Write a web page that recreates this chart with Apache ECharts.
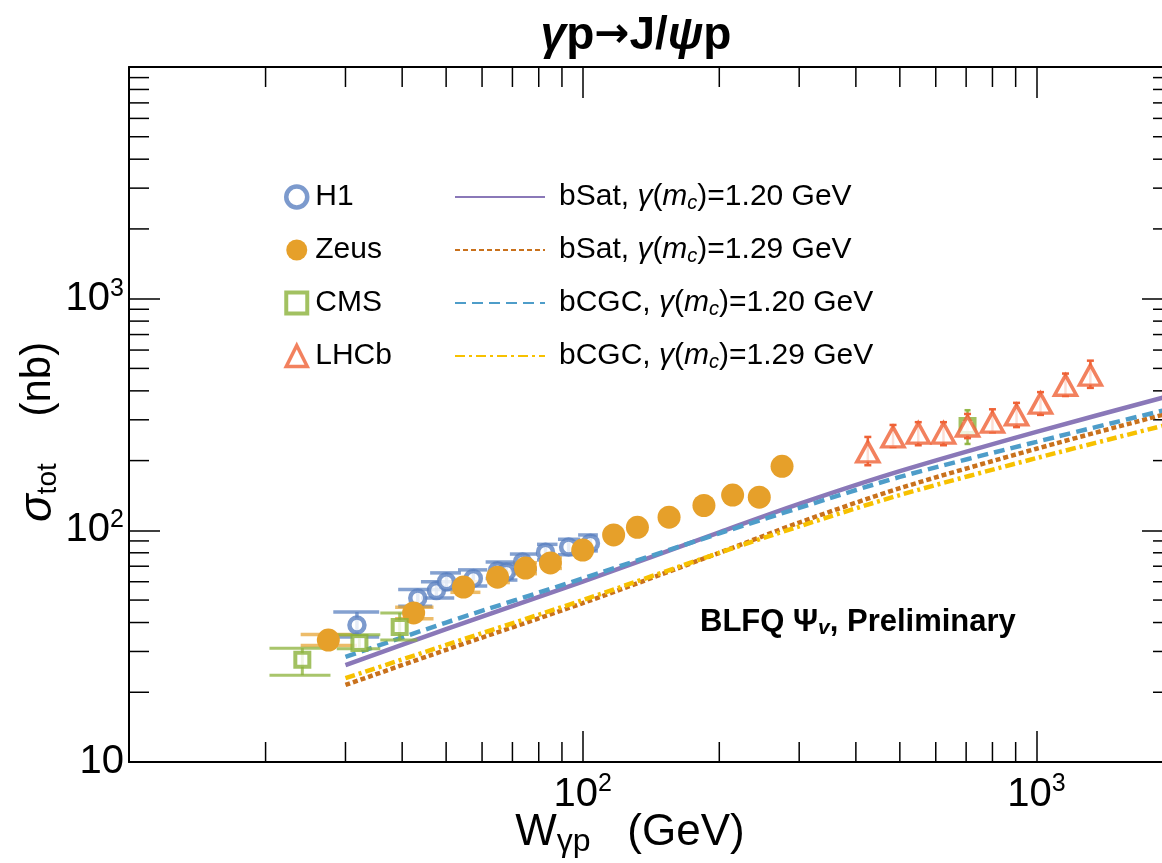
<!DOCTYPE html>
<html>
<head>
<meta charset="utf-8">
<script src="https://cdn.jsdelivr.net/npm/echarts@6/dist/echarts.min.js"></script>
<style>
html, body { margin: 0; padding: 0; background: #fff; }
#main { width: 1162px; height: 863px; }
</style>
</head>
<body>
<div id="main"></div>
<script>
// data points: [W (GeV), sigma (nb)]
var h1 = [[31.8,39],[43.3,51],[47.6,55],[50.1,60],[57.4,62],[64.9,67],[67.9,66],[73.7,73],[82.8,80.5],[93.1,84.7],[104,88]];
// error bars: [W, sigLo, sigHi, Wlo, Whi]
var h1Err = [[31.8,34.6,44.4,28.2,35.6],[43.3,47.0,55.5,39.2,46.6],[47.6,51.0,60.0,44.0,52.1],
    [50.1,55.5,65.5,46.1,53.9],[57.4,57.5,67.5,53.1,61.6],[64.9,62.0,73.0,61.1,70.4],
    [67.9,61.0,71.5,63.6,71.8],[73.7,67.5,79.0,69.1,79.3],[82.8,74.5,87.0,79.3,88.0],
    [93.1,78.5,91.5,88.2,98.7],[104,81.5,95.5,97.7,108]];

var zeus = [[27.5,33.6],[42.4,44],[54.6,56.9],[64.9,62.8],[74.8,68.7],[84.9,72.3],[100,82.2],
    [117,95.5],[132,103],[155,114],[185,128],[214,142],[245,139],[275,189]];
var zeusErr = [[27.5,31.8,35.5,23.9,31.8],[42.4,41.5,46.5,38.6,46.9],[54.6,54.0,60.0,51.1,59.5],
    [64.9,59.5,66.0,61.7,69.1],[74.8,65.0,72.5,70.3,79.3],[84.9,68.5,76.0,81.8,90.0]];

var cms = [[24.1,27.6],[32.2,32.6],[39.5,38.3],[705,282]];
var cmsErr = [[24.1,23.7,31.0,20.4,27.8],[32.2,30.8,35.4,28.7,35.8],[39.5,33.6,44.0,35.8,43.2]];
var cmsErrHigh = [[705,236,330]];

var lhcb = [[425,218],[483,253],[549,263],[624,263],[705,282],[800,293],[904,315],[1021,354],[1159,423],[1315,468]];
// [W, sigLo, sigHi]
var lhcbErr = [[425,191,253],[483,229,285],[549,233,293],[624,233,293],[705,250,318],[800,265,333],
    [904,279,355],[1021,315,395],[1159,380,475],[1315,412,540]];

// model curves
var curveW = [30, 50, 100, 200, 300, 500, 1000, 2000];
var bSat120 = [26.2, 37.5, 60, 98, 130, 180, 266, 384];
var bSat129 = [21.5, 30.5, 48.5, 80, 108, 152, 225, 324];
var bCGC120 = [28.4, 40, 62, 97, 125, 170, 241, 337];
var bCGC129 = [23, 32, 50, 80, 104, 142, 205, 290];

var xMinor = [20,30,40,50,60,70,80,90,200,300,400,500,600,700,800,900];
var yMinor = [20,30,40,50,60,70,80,90,200,300,400,500,600,700,800,900,2000,3000,4000,5000,6000,7000,8000,9000];

var names = ['bSat, γ(m_c)=1.20 GeV', 'bSat, γ(m_c)=1.29 GeV', 'bCGC, γ(m_c)=1.20 GeV', 'bCGC, γ(m_c)=1.29 GeV'];

var FONT = 'Liberation Sans';
var BLUE = '#5b81c0', ORANGE = '#e6a02a', GREEN = '#8bb13a', RED = '#ef6236';

function pairs(xs, ys) {
    return xs.map(function (x, i) { return [x, ys[i]]; });
}

function errRender(color, width, opacity, cap) {
    return function (params, api) {
        var x = api.value(0), lo = api.value(1), hi = api.value(2);
        var a = api.coord([x, lo]), b = api.coord([x, hi]);
        var xl, xr;
        if (cap) {
            xl = a[0] - cap; xr = a[0] + cap;
        } else {
            xl = api.coord([api.value(3), lo])[0];
            xr = api.coord([api.value(4), lo])[0];
        }
        var st = { stroke: color, lineWidth: width, opacity: opacity };
        return { type: 'group', children: [
            { type: 'line', shape: { x1: a[0], y1: a[1], x2: b[0], y2: b[1] }, style: st },
            { type: 'line', shape: { x1: xl, y1: a[1], x2: xr, y2: a[1] }, style: st },
            { type: 'line', shape: { x1: xl, y1: b[1], x2: xr, y2: b[1] }, style: st }
        ]};
    };
}

function powLabel(v) {
    var e = Math.round(Math.log10(v));
    if (Math.abs(Math.pow(10, e) - v) > 1e-6 * v) return '';
    if (e === 1) return '{n|10}';
    return '{n|10}{s|' + e + '}';
}

var labelRich = {
    n: { fontFamily: FONT, fontSize: 40, color: '#000' },
    s: { fontFamily: FONT, fontSize: 25, color: '#000', padding: [0, 0, 20, 0] }
};

var legendRich = {
    t: { fontFamily: FONT, fontSize: 30, color: '#000', lineHeight: 32 },
    i: { fontFamily: FONT, fontSize: 30, color: '#000', fontStyle: 'italic', lineHeight: 32 },
    sub: { fontFamily: FONT, fontSize: 20, color: '#000', fontStyle: 'italic', lineHeight: 32, padding: [12, 0, 0, 0] }
};

var chart = echarts.init(document.getElementById('main'));

var axisLineStyle = { color: '#000', width: 2 };
var tickStyle = { inside: true, length: 31, lineStyle: { color: '#000', width: 1.5 } };

var option = {
    backgroundColor: '#fff',
    animation: false,
    grid: { left: 129, width: 1044, top: 67, bottom: 101, outerBoundsMode: 'none', containLabel: false },
    xAxis: [{
        type: 'log', min: 10, max: 2000,
        axisLine: { lineStyle: axisLineStyle },
        axisTick: tickStyle,
        splitLine: { show: false },
        axisLabel: { margin: 10, formatter: function (v) { var s = powLabel(v); return s === '{n|10}' ? '' : s; }, rich: labelRich }
    }, {
        type: 'log', min: 10, max: 2000, position: 'top',
        axisLine: { lineStyle: axisLineStyle },
        axisTick: tickStyle,
        splitLine: { show: false },
        axisLabel: { show: false }
    }],
    yAxis: [{
        type: 'log', min: 10, max: 10000,
        axisLine: { lineStyle: axisLineStyle },
        axisTick: tickStyle,
        splitLine: { show: false },
        axisLabel: { margin: 5, formatter: function (v) { return v > 5000 ? '' : powLabel(v); }, rich: labelRich }
    }, {
        type: 'log', min: 10, max: 10000, position: 'right',
        axisLine: { lineStyle: axisLineStyle },
        axisTick: tickStyle,
        splitLine: { show: false },
        axisLabel: { show: false }
    }],
    legend: [{
        data: [
            { name: 'H1', itemStyle: { borderWidth: 4.5 } },
            { name: 'Zeus' },
            { name: 'CMS', itemStyle: { borderWidth: 4 } },
            { name: 'LHCb', itemStyle: { borderWidth: 3.5 } }
        ],
        orient: 'vertical', left: 279, top: 176,
        itemWidth: 21, itemHeight: 21, itemGap: 21,
        textStyle: { fontFamily: FONT, fontSize: 30, color: '#000', lineHeight: 32, padding: [0, 0, 0, 3] }
    }, {
        data: names,
        orient: 'vertical', left: 449, top: 176,
        itemWidth: 90, itemHeight: 14, itemGap: 21,
        itemStyle: { color: 'rgba(0,0,0,0)', borderWidth: 0 },
        formatter: function (name) {
            var parts = name.split('γ(m_c)');
            return '{t|' + parts[0] + '}{i|γ}{t|(}{i|m}{sub|c}{t|)' + parts[1] + '}';
        },
        textStyle: { rich: legendRich, padding: [0, 0, 0, 9] }
    }],
    graphic: [{
        type: 'text', x: 636, y: 36,
        style: {
            text: '{i|γ}{b|p}{a|→}{b|J/}{i|ψ}{b|p}', align: 'center', verticalAlign: 'middle',
            rich: {
                b: { fontFamily: FONT, fontSize: 46, fontWeight: 'bold', color: '#000' },
                i: { fontFamily: FONT, fontSize: 46, fontWeight: 'bold', fontStyle: 'italic', color: '#000' },
                a: { fontFamily: 'DejaVu Sans', fontSize: 42, fontWeight: 'bold', color: '#000' }
            }
        }
    }, {
        type: 'text', x: 630, y: 833,
        style: {
            text: '{n|W}{sub|γp}{n|   (GeV)}', align: 'center', verticalAlign: 'middle',
            rich: {
                n: { fontFamily: FONT, fontSize: 44, color: '#000', lineHeight: 50 },
                sub: { fontFamily: FONT, fontSize: 32, color: '#000', lineHeight: 50, padding: [18, 0, 0, 0] }
            }
        }
    }, {
        type: 'text', x: 38, y: 432, rotation: Math.PI / 2,
        style: {
            text: '{s|σ}{sub|tot}{n|    (nb)}', align: 'center', verticalAlign: 'middle',
            rich: {
                s: { fontFamily: FONT, fontSize: 46, fontStyle: 'italic', color: '#000', lineHeight: 52 },
                sub: { fontFamily: FONT, fontSize: 28, color: '#000', lineHeight: 52, padding: [20, 0, 0, 0] },
                n: { fontFamily: FONT, fontSize: 42, color: '#000', lineHeight: 52 }
            }
        }
    }, {
        type: 'text', x: 700, y: 622,
        style: {
            text: '{b|BLFQ Ψ}{sub|v}{b|, Preliminary}', verticalAlign: 'middle',
            rich: {
                b: { fontFamily: FONT, fontSize: 31, fontWeight: 'bold', color: '#000', lineHeight: 34 },
                sub: { fontFamily: FONT, fontSize: 21, fontWeight: 'bold', fontStyle: 'italic', color: '#000', lineHeight: 34, padding: [12, 0, 0, 0] }
            }
        }
    }],
    series: [
        // minor ticks on x (bottom and top)
        {
            type: 'custom', silent: true, z: 1,
            data: xMinor.map(function (v) { return [v, 100]; }),
            renderItem: function (params, api) {
                var cs = params.coordSys;
                var px = api.coord([api.value(0), 100])[0];
                var st = { stroke: '#000', lineWidth: 1.5 };
                return { type: 'group', children: [
                    { type: 'line', shape: { x1: px, y1: cs.y + cs.height, x2: px, y2: cs.y + cs.height - 20 }, style: st },
                    { type: 'line', shape: { x1: px, y1: cs.y, x2: px, y2: cs.y + 20 }, style: st }
                ]};
            }
        },
        // minor ticks on y (left and right)
        {
            type: 'custom', silent: true, z: 1,
            data: yMinor.map(function (v) { return [100, v]; }),
            renderItem: function (params, api) {
                var cs = params.coordSys;
                var py = api.coord([100, api.value(1)])[1];
                var st = { stroke: '#000', lineWidth: 1.5 };
                return { type: 'group', children: [
                    { type: 'line', shape: { x1: cs.x, y1: py, x2: cs.x + 20, y2: py }, style: st },
                    { type: 'line', shape: { x1: cs.x + cs.width, y1: py, x2: cs.x + cs.width - 20, y2: py }, style: st }
                ]};
            }
        },
        {
            name: names[0], type: 'line', data: pairs(curveW, bSat120), smooth: 0.3, symbol: 'none', z: 2,
            lineStyle: { color: '#8a78b8', width: 4.5 }, itemStyle: { color: '#8a78b8' }
        },
        {
            name: names[1], type: 'line', data: pairs(curveW, bSat129), smooth: 0.3, symbol: 'none', z: 2,
            lineStyle: { color: '#c9711c', width: 4.5, type: [5, 3] }, itemStyle: { color: '#c9711c' }
        },
        {
            name: names[2], type: 'line', data: pairs(curveW, bCGC120), smooth: 0.3, symbol: 'none', z: 2,
            lineStyle: { color: '#4e9dc9', width: 4.5, type: [11, 6] }, itemStyle: { color: '#4e9dc9' }
        },
        {
            name: names[3], type: 'line', data: pairs(curveW, bCGC129), smooth: 0.3, symbol: 'none', z: 2,
            lineStyle: { color: '#f7c100', width: 4.5, type: [10, 4, 3, 4] }, itemStyle: { color: '#f7c100' }
        },
        // error bars
        { type: 'custom', silent: true, z: 3, data: h1Err, encode: { x: [0, 3, 4], y: [1, 2] },
          renderItem: errRender(BLUE, 3.5, 0.75) },
        { type: 'custom', silent: true, z: 3, data: zeusErr, encode: { x: [0, 3, 4], y: [1, 2] },
          renderItem: errRender(ORANGE, 3.5, 0.7) },
        { type: 'custom', silent: true, z: 3, data: cmsErr, encode: { x: [0, 3, 4], y: [1, 2] },
          renderItem: errRender(GREEN, 3, 0.75) },
        { type: 'custom', silent: true, z: 3, data: cmsErrHigh, encode: { x: 0, y: [1, 2] },
          renderItem: errRender(GREEN, 2.5, 0.9, 3) },
        { type: 'custom', silent: true, z: 3, data: lhcbErr, encode: { x: 0, y: [1, 2] },
          renderItem: errRender(RED, 2.5, 1, 3.5) },
        // data markers
        {
            name: 'H1', type: 'scatter', data: h1, symbol: 'circle', symbolSize: 15, z: 4,
            itemStyle: { color: '#fff', borderColor: BLUE, borderWidth: 4.5 }
        },
        {
            name: 'Zeus', type: 'scatter', data: zeus, symbol: 'circle', symbolSize: 23, z: 4,
            itemStyle: { color: ORANGE, opacity: 1 }
        },
        {
            name: 'CMS', type: 'scatter', data: cms, symbol: 'rect', symbolSize: 14, z: 4,
            itemStyle: { color: '#fff', borderColor: GREEN, borderWidth: 4 }
        },
        {
            name: 'LHCb', type: 'scatter', data: lhcb, symbol: 'triangle', symbolSize: [22, 20], z: 4,
            itemStyle: { color: '#fff', borderColor: RED, borderWidth: 3.5 }
        }
    ]
};

chart.setOption(option);
</script>
</body>
</html>
